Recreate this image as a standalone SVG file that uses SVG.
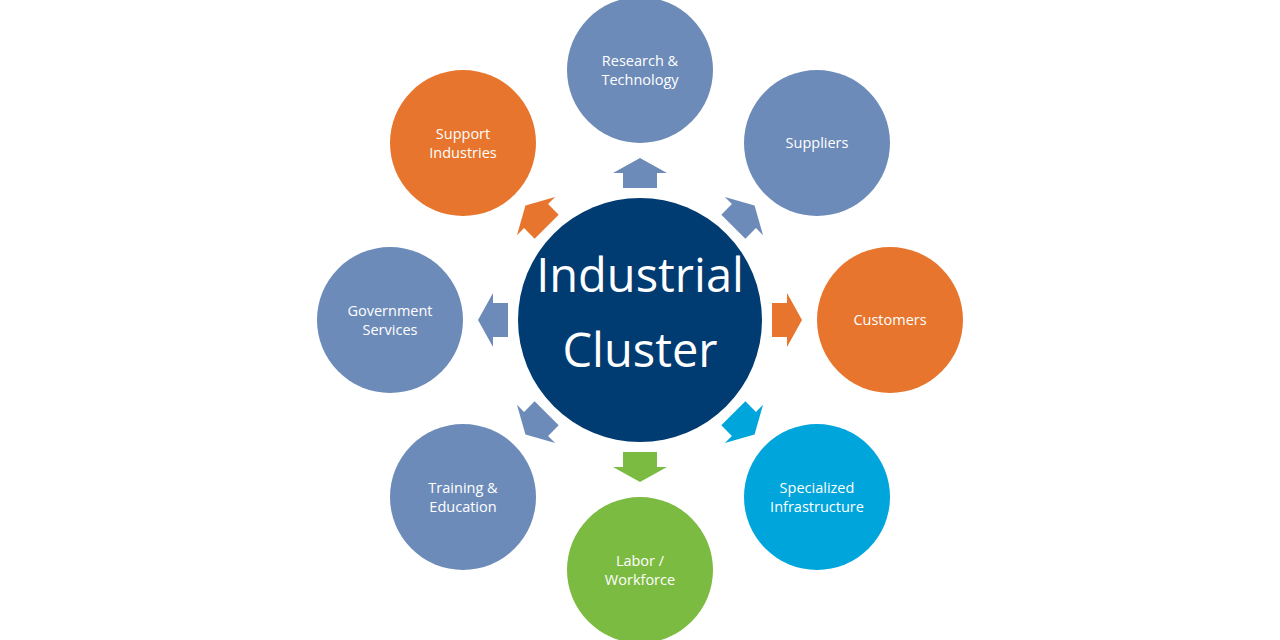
<svg xmlns="http://www.w3.org/2000/svg" width="1280" height="640" viewBox="0 0 1280 640">
<defs>
<style>
.lbl{font-family:"Open Sans","Liberation Sans",sans-serif;font-size:14.5px;fill:#ffffff;text-anchor:middle}
.big{font-family:"Open Sans","Liberation Sans",sans-serif;font-size:47px;fill:#ffffff;text-anchor:middle}
.gb{fill:#6D8BB9}.or{fill:#E7752D}.lb{fill:#00A5DC}.gr{fill:#7CBB42}.nv{fill:#003B72}
</style>
<polygon id="arr" points="-17,-132 17,-132 17,-147 27,-147 0,-162 -27,-147 -17,-147"/>
</defs>
<rect width="1280" height="640" fill="#ffffff"/>
<g id="connectors">
<use href="#arr" class="gb" transform="translate(640,320) rotate(0)"/>
<use href="#arr" class="gb" transform="translate(640,320) rotate(45)"/>
<use href="#arr" class="or" transform="translate(640,320) rotate(90)"/>
<use href="#arr" class="lb" transform="translate(640,320) rotate(135)"/>
<use href="#arr" class="gr" transform="translate(640,320) rotate(180)"/>
<use href="#arr" class="gb" transform="translate(640,320) rotate(225)"/>
<use href="#arr" class="gb" transform="translate(640,320) rotate(270)"/>
<use href="#arr" class="or" transform="translate(640,320) rotate(315)"/>
</g>
<g id="center">
<circle cx="640" cy="320" r="122" class="nv"/>
<text class="big" x="640" y="292">Industrial</text>
<text class="big" x="640" y="367">Cluster</text>
</g>
<g id="research">
<circle cx="640" cy="70" r="73" class="gb"/>
<text class="lbl" x="640" y="66">Research &amp;</text>
<text class="lbl" x="640" y="85">Technology</text>
</g>
<g id="suppliers">
<circle cx="817" cy="143" r="73" class="gb"/>
<text class="lbl" x="817" y="148">Suppliers</text>
</g>
<g id="customers">
<circle cx="890" cy="320" r="73" class="or"/>
<text class="lbl" x="890" y="325">Customers</text>
</g>
<g id="infrastructure">
<circle cx="817" cy="497" r="73" class="lb"/>
<text class="lbl" x="817" y="493">Specialized</text>
<text class="lbl" x="817" y="512">Infrastructure</text>
</g>
<g id="labor">
<circle cx="640" cy="570" r="73" class="gr"/>
<text class="lbl" x="640" y="566">Labor /</text>
<text class="lbl" x="640" y="585">Workforce</text>
</g>
<g id="training">
<circle cx="463" cy="497" r="73" class="gb"/>
<text class="lbl" x="463" y="493">Training &amp;</text>
<text class="lbl" x="463" y="512">Education</text>
</g>
<g id="government">
<circle cx="390" cy="320" r="73" class="gb"/>
<text class="lbl" x="390" y="316">Government</text>
<text class="lbl" x="390" y="335">Services</text>
</g>
<g id="support">
<circle cx="463" cy="143" r="73" class="or"/>
<text class="lbl" x="463" y="139">Support</text>
<text class="lbl" x="463" y="158">Industries</text>
</g>
</svg>
